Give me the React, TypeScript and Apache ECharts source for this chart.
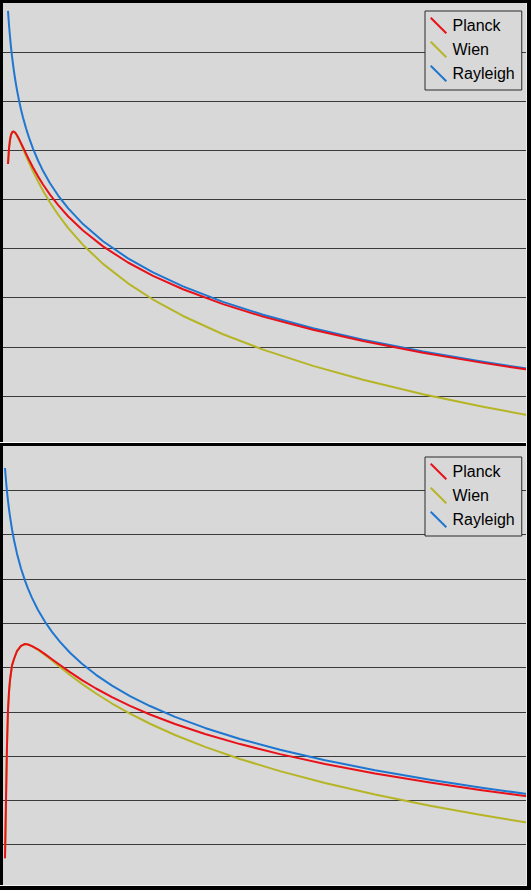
import React, { useEffect, useRef } from "react";
import * as echarts from "echarts";

// ---- data (x: wavelength position, y: grid units) ----
const SERIES_NAMES = ["Planck", "Wien", "Rayleigh"];

// Top panel
const X_TOP = [5, 6, 7, 8, 9, 10, 11, 12, 13, 14, 16, 18, 20, 23, 26, 30, 35, 40, 47, 55, 65, 80, 100, 125, 150, 180, 220, 260, 310, 360, 420, 480, 524];
const PLANCK_TOP = [5.721, 6.036, 6.214, 6.313, 6.363, 6.382, 6.38, 6.364, 6.339, 6.307, 6.232, 6.148, 6.062, 5.933, 5.808, 5.651, 5.47, 5.305, 5.097, 4.888, 4.658, 4.366, 4.044, 3.716, 3.445, 3.172, 2.868, 2.614, 2.345, 2.116, 1.878, 1.672, 1.537];
const WIEN_TOP = [5.721, 6.036, 6.214, 6.313, 6.362, 6.38, 6.376, 6.359, 6.331, 6.297, 6.216, 6.125, 6.031, 5.889, 5.75, 5.574, 5.368, 5.179, 4.938, 4.693, 4.422, 4.074, 3.688, 3.292, 2.962, 2.627, 2.255, 1.942, 1.611, 1.327, 1.033, 0.778, 0.61];
const RAYLEIGH_TOP = [8.839, 8.553, 8.312, 8.103, 7.919, 7.754, 7.604, 7.468, 7.343, 7.227, 7.018, 6.833, 6.669, 6.45, 6.258, 6.034, 5.793, 5.583, 5.331, 5.085, 4.823, 4.498, 4.149, 3.8, 3.514, 3.229, 2.915, 2.653, 2.378, 2.144, 1.903, 1.694, 1.556];

// Bottom panel
const X_BOTTOM = [2, 3, 4, 5, 6, 7, 9, 11, 14, 18, 22, 25, 29, 35, 42, 49, 57, 67, 79, 93, 109, 127, 147, 172, 202, 237, 277, 322, 372, 427, 477, 524];
const PLANCK_BOTTOM = [0.693, 2.009, 3.25, 4.04, 4.447, 4.718, 5.045, 5.192, 5.372, 5.49, 5.53, 5.52, 5.482, 5.411, 5.303, 5.187, 5.055, 4.895, 4.716, 4.526, 4.33, 4.134, 3.939, 3.724, 3.499, 3.271, 3.045, 2.823, 2.609, 2.402, 2.235, 2.093];
const WIEN_BOTTOM = [0.693, 2.009, 3.25, 4.04, 4.447, 4.718, 5.045, 5.192, 5.372, 5.49, 5.53, 5.52, 5.476, 5.399, 5.282, 5.156, 5.01, 4.831, 4.63, 4.413, 4.187, 3.958, 3.73, 3.476, 3.208, 2.934, 2.661, 2.392, 2.131, 1.879, 1.674, 1.499];
const RAYLEIGH_BOTTOM = [9.504, 9.216, 8.972, 8.761, 8.575, 8.409, 8.121, 7.877, 7.57, 7.236, 6.961, 6.782, 6.571, 6.299, 6.032, 5.804, 5.578, 5.334, 5.084, 4.835, 4.591, 4.356, 4.13, 3.886, 3.636, 3.387, 3.144, 2.908, 2.682, 2.466, 2.292, 2.144];

const Y_MAX_TOP = 9;
const Y_MAX_BOTTOM = 10;
const X_MAX = 524;

const COLORS: Record<string, string> = {
  Planck: "#e8111a",
  Wien: "#b6b526",
  Rayleigh: "#1f76d0",
};

const PANEL_BG = "#d8d8d8";
const GRID_LINE = "#3a3a3a";
const FONT = 'Arial, "Liberation Sans", sans-serif';

function pairs(xs: number[], ys: number[]) {
  return xs.map((x, i) => [x, ys[i]]);
}

export default function App() {
  const ref = useRef<HTMLDivElement>(null);

  useEffect(() => {
    if (!ref.current) return;
    const chart = echarts.init(ref.current, undefined, { renderer: "svg" });

    const panels = [
      { x: X_TOP, planck: PLANCK_TOP, wien: WIEN_TOP, rayleigh: RAYLEIGH_TOP, yMax: Y_MAX_TOP },
      { x: X_BOTTOM, planck: PLANCK_BOTTOM, wien: WIEN_BOTTOM, rayleigh: RAYLEIGH_BOTTOM, yMax: Y_MAX_BOTTOM },
    ];

    const series: any[] = [];
    panels.forEach((p, i) => {
      const lines: [string, number[]][] = [
        ["Wien", p.wien],
        ["Rayleigh", p.rayleigh],
        ["Planck", p.planck],
      ];
      lines.forEach(([name, ys]) => {
        series.push({
          name,
          type: "line",
          xAxisIndex: i,
          yAxisIndex: i,
          data: pairs(p.x, ys),
          showSymbol: false,
          symbol: "none",
          smooth: false,
          lineStyle: { color: COLORS[name], width: 2, join: "round" },
          itemStyle: { color: COLORS[name] },
          emphasis: { disabled: true },
          silent: true,
        });
      });
    });

    const legendBase = {
      orient: "vertical",
      left: 425,
      data: SERIES_NAMES,
      icon: "path://M0,1.4L1.4,0L17,15.6L15.6,17Z",
      itemWidth: 18,
      itemHeight: 17,
      itemGap: 7,
      padding: [6, 7, 8, 5],
      backgroundColor: PANEL_BG,
      borderColor: "#2a2a2a",
      borderWidth: 1,
      borderRadius: 0,
      selectedMode: false,
      itemStyle: { borderWidth: 0 },
      textStyle: { fontSize: 16, color: "#000", fontFamily: FONT, lineHeight: 17 },
      z: 10,
    };

    const axisHidden = {
      axisLine: { show: false },
      axisTick: { show: false },
      axisLabel: { show: false },
    };

    chart.setOption({
      animation: false,
      backgroundColor: "transparent",
      grid: [
        { left: 3, top: 3, width: 524, height: 442, show: true, backgroundColor: PANEL_BG, borderWidth: 0 },
        { left: 3, top: 446, width: 524, height: 443, show: true, backgroundColor: PANEL_BG, borderWidth: 0 },
      ],
      xAxis: [0, 1].map((i) => ({
        type: "value",
        gridIndex: i,
        min: 0,
        max: X_MAX,
        splitLine: { show: false },
        ...axisHidden,
      })),
      yAxis: panels.map((p, i) => ({
        type: "value",
        gridIndex: i,
        min: 0,
        max: p.yMax,
        interval: 1,
        splitLine: {
          show: true,
          showMinLine: false,
          showMaxLine: false,
          lineStyle: { color: GRID_LINE, width: 1 },
        },
        ...axisHidden,
      })),
      legend: [
        { ...legendBase, top: 11 },
        { ...legendBase, top: 457 },
      ],
      graphic: [
        { type: "rect", z: 100, shape: { x: 0, y: 442, width: 531, height: 1 }, style: { fill: "#ffffff" }, silent: true },
        { type: "rect", z: 100, shape: { x: 0, y: 443, width: 531, height: 3 }, style: { fill: "#000000" }, silent: true },
        { type: "rect", z: 100, shape: { x: 0, y: 885, width: 531, height: 1 }, style: { fill: "#f2f2f2" }, silent: true },
        { type: "rect", z: 100, shape: { x: 0, y: 886, width: 531, height: 4 }, style: { fill: "#000000" }, silent: true },
        { type: "rect", z: 100, shape: { x: 526, y: 3, width: 1, height: 883 }, style: { fill: "#ececec" }, silent: true },
        { type: "rect", z: 100, shape: { x: 527, y: 0, width: 4, height: 890 }, style: { fill: "#000000" }, silent: true },
      ],
      series,
    });

    return () => chart.dispose();
  }, []);

  return (
    <div
      style={{ position: "absolute", left: 0, top: 0, width: 531, height: 890, background: "#000" }}
    >
      <div ref={ref} style={{ width: 531, height: 890 }} />
    </div>
  );
}
